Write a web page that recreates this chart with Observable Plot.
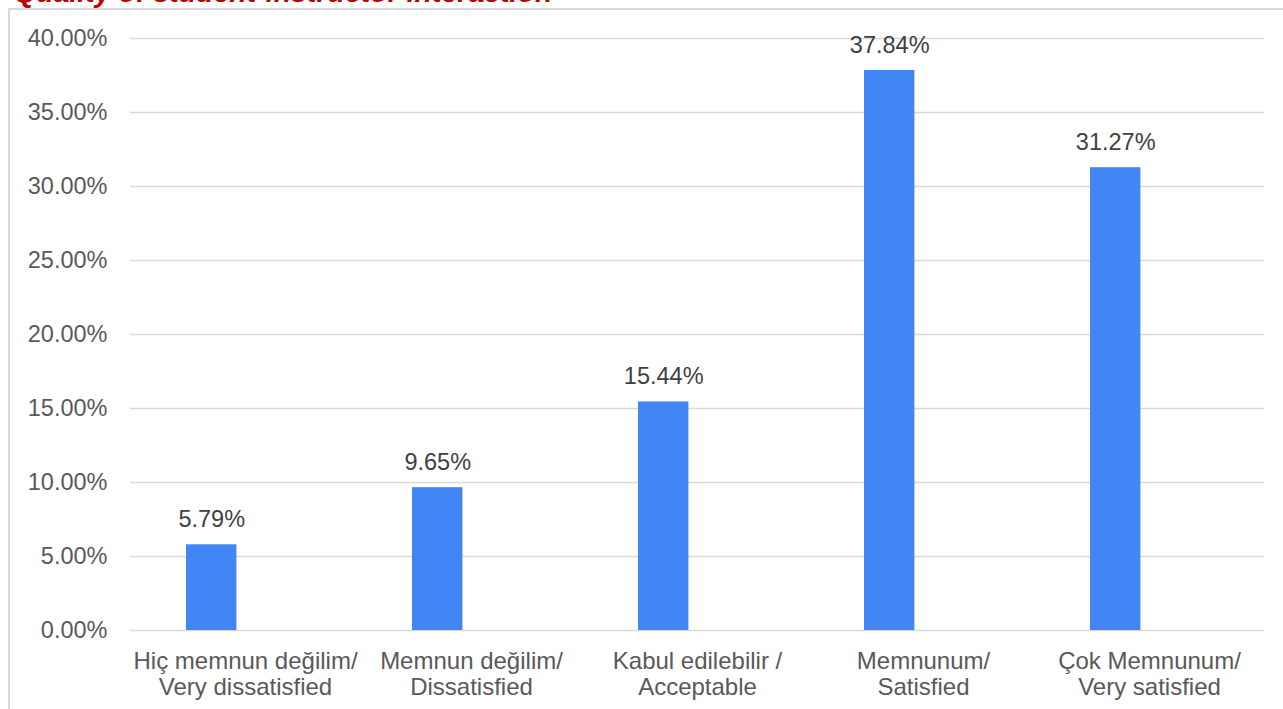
<!DOCTYPE html>
<html>
<head>
<meta charset="utf-8">
<script src="https://cdn.jsdelivr.net/npm/d3@7"></script>
<script src="https://cdn.jsdelivr.net/npm/@observablehq/plot@0.6"></script>
<style>
  html, body { margin: 0; padding: 0; background: #fff; overflow: hidden; }
  #wrap { position: relative; width: 1283px; height: 709px; overflow: hidden; font-family: "Liberation Sans", Arial, sans-serif; }
  #frame { position: absolute; left: 8px; top: 8px; width: 1400px; height: 900px; border-left: 2px solid #d9d9d9; border-top: 2px solid #d9d9d9; box-sizing: border-box; }
  #title { position: absolute; left: 14px; top: -22px; font: italic bold 28.5px "Liberation Sans", Arial, sans-serif; line-height: 28px; color: #c00000; white-space: nowrap; }
  #chart { position: absolute; left: 0; top: 0; }
</style>
</head>
<body>
<div id="wrap">
  <div id="frame"></div>
  <div id="title">Quality of student-instructor interaction</div>
  <div id="chart"></div>
</div>
<script>
const categories = [
  "Hiç memnun değilim/\nVery dissatisfied",
  "Memnun değilim/\nDissatisfied",
  "Kabul edilebilir /\nAcceptable",
  "Memnunum/\nSatisfied",
  "Çok Memnunum/\nVery satisfied"
];
const values = [5.79, 9.65, 15.44, 37.84, 31.27];
const yTicks = [0, 5, 10, 15, 20, 25, 30, 35, 40];

const data = categories.map((c, i) => ({category: c, value: values[i]}));

const chart = Plot.plot({
  width: 1283,
  height: 709,
  marginTop: 38,
  marginBottom: 79,
  marginLeft: 130,
  marginRight: 19,
  style: {background: "transparent", fontFamily: "\"Liberation Sans\", Arial, sans-serif", overflow: "visible"},
  x: {type: "band", domain: categories, padding: 0, label: null},
  y: {domain: [0, 40], label: null},
  marks: [
    Plot.gridY(yTicks, {stroke: "#d9d9d9", strokeOpacity: 1, strokeWidth: 1.5}),
    Plot.axisY(yTicks, {tickSize: 0, tickPadding: 23, fontSize: 23.5, fill: "#595959", tickFormat: d => d.toFixed(2) + "%", label: null}),
    Plot.axisX({tickSize: 0, tickPadding: 19.5, fontSize: 24, fill: "#595959", lineHeight: 1.1, label: null}),
    Plot.barY(data, {x: "category", y: "value", fill: "#4285f4", insetLeft: 54, insetRight: 121.6}),
    Plot.text(data, {x: "category", y: "value", text: d => d.value.toFixed(2) + "%", dx: -33.8, dy: -17.5, lineAnchor: "bottom", fontSize: 23.5, fill: "#404040"})
  ]
});
document.getElementById("chart").appendChild(chart);
</script>
</body>
</html>
